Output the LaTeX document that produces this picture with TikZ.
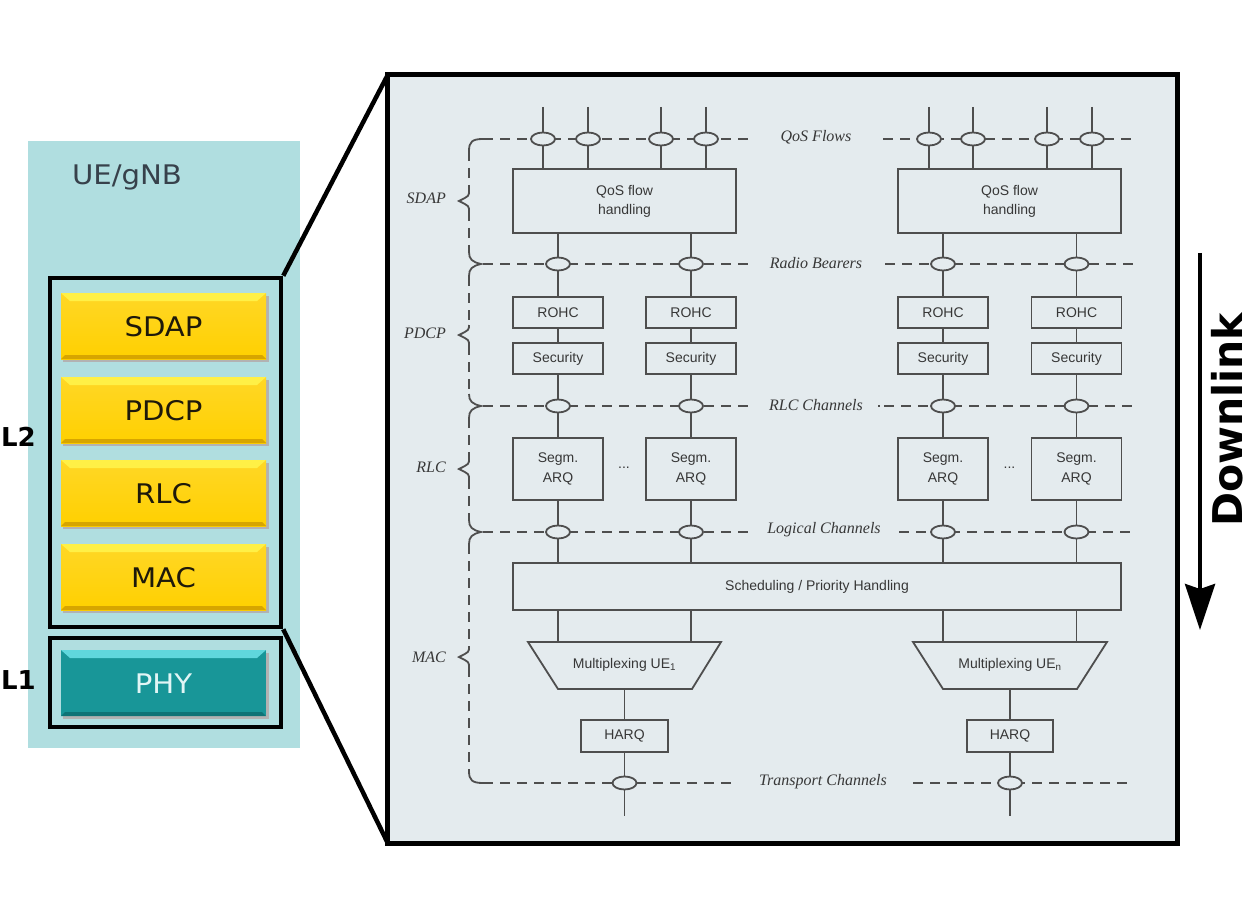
\documentclass[tikz,border=0pt]{standalone}
\usepackage{fontspec}
\usepackage{graphicx}
\usetikzlibrary{shapes.geometric,arrows.meta}
\setmainfont{Liberation Sans}
\newfontfamily\tnr{Liberation Serif}
\newfontfamily\dvs{DejaVu Sans}
\definecolor{bg}{RGB}{228,235,238}
\definecolor{lc}{RGB}{78,78,78}
\definecolor{tc}{RGB}{55,55,55}
\definecolor{panelc}{RGB}{176,222,224}
\definecolor{ybase}{RGB}{255,208,0}
\definecolor{ylight}{RGB}{255,240,70}
\definecolor{ydark}{RGB}{215,165,0}
\definecolor{tbase}{RGB}{24,150,152}
\definecolor{tlight}{RGB}{95,215,220}
\definecolor{tdark}{RGB}{15,115,118}
\newcommand\bxfont{\fontsize{14}{19}\selectfont}
\newcommand\lbfont{\tnr\itshape\fontsize{16}{18}\selectfont}
\newcommand\lpfont{\dvs\fontsize{27}{30}\selectfont}
\begin{document}
\begin{tikzpicture}[x=1pt,y=-1pt,
  ln/.style={draw=lc, line width=1.8pt},
  bx/.style={draw=lc, line width=1.8pt, rectangle, inner sep=0pt, align=center, font=\bxfont, text=tc},
  ov/.style={draw=lc, line width=1.8pt, ellipse, fill=bg, minimum width=24pt, minimum height=13pt, inner sep=0pt},
  dsh/.style={draw=lc, line width=1.8pt, dash pattern=on 10pt off 7pt},
  tip/.style={draw=lc, line width=1.8pt},
  lab/.style={font=\lbfont, text=tc, inner sep=0pt},
  ptxt/.style={font=\lpfont, inner sep=0pt},
  frame/.style={draw=black, line width=4.5pt, rectangle, inner sep=0pt}]
\useasboundingbox (0,0) rectangle (1255,917);
\fill[white] (0,0) rectangle (1255,917);

% ---------- left panel ----------
\fill[panelc] (28,141) rectangle (300,748);
\node[ptxt, text={rgb,255:red,55;green,65;blue,75}] (ue) at (127,177) {\scalebox{1.08}[1]{UE/gNB}};

\foreach \n/\t/\yy in {sdap/SDAP/293, pdcp/PDCP/377, rlc/RLC/460, mac/MAC/544} {
  \fill[black!30] (63,\yy+3) rectangle (269,\yy+69);
  \shade[top color=ybase!85!white, bottom color=ybase] (61,\yy) rectangle (266,\yy+66);
  \fill[ylight] (61,\yy) -- (266,\yy) -- (257,\yy+8) -- (70,\yy+8) -- cycle;
  \fill[ydark] (61,\yy+66) -- (266,\yy+66) -- (262,\yy+62) -- (65,\yy+62) -- cycle;
  \node[ptxt, text={rgb,255:red,30;green,25;blue,10}] (\n) at (163.5,\yy+34) {\scalebox{1.08}[1]{\t}};
}
\fill[black!30] (63,653) rectangle (269,719);
\fill[tbase] (61,650) rectangle (266,716);
\fill[tlight] (61,650) -- (266,650) -- (257,658) -- (70,658) -- cycle;
\fill[tdark] (61,716) -- (266,716) -- (262,712) -- (65,712) -- cycle;
\node[ptxt, text={rgb,255:red,225;green,245;blue,245}] (phy) at (163.5,684) {\scalebox{1.08}[1]{PHY}};

\node[frame, minimum width=231pt, minimum height=349pt] (l2box) at (165.5,452.5) {};
\node[frame, minimum width=231pt, minimum height=89pt] (l1box) at (165.5,682.5) {};
\node[anchor=east, inner sep=0pt, font=\dvs\bfseries\fontsize{26}{28}\selectfont] (l2) at (36,437) {L2};
\node[anchor=east, inner sep=0pt, font=\dvs\bfseries\fontsize{26}{28}\selectfont] (l1) at (36,680) {L1};

% ---------- right panel ----------
\node[rectangle, fill=bg, minimum width=789pt, minimum height=768pt, inner sep=0pt] (rp) at (782.5,459) {};
\draw[line width=4.5pt] (l2box.north east) -- (rp.north west);
\draw[line width=4.5pt] (l2box.south east) -- (rp.south west);

% boxes
\node[bx, minimum width=223pt, minimum height=64pt] (q1) at (624.5,201) {QoS flow\\handling};
\node[bx, minimum width=223pt, minimum height=64pt] (q2) at (1009.5,201) {QoS flow\\handling};
\foreach \n/\x in {1/558, 2/691, 3/943, 4/1076.5} {
  \node[bx, minimum width=90pt, minimum height=31pt] (r\n) at (\x,312.5) {ROHC};
  \node[bx, minimum width=90pt, minimum height=31pt] (s\n) at (\x,358.5) {Security};
  \node[bx, minimum width=90pt, minimum height=62pt] (g\n) at (\x,469) {Segm.\\[1pt]ARQ};
}
\node[font=\bxfont, text=tc, inner sep=0pt] (dots1) at (624,468) {...};
\node[font=\bxfont, text=tc, inner sep=0pt] (dots2) at (1009.5,468) {...};
\node[bx, minimum width=608pt, minimum height=47pt] (sch) at (817,586.5) {Scheduling / Priority Handling};

% multiplexers
\draw[ln] (528,642) -- (721,642) -- (692,689) -- (558,689) -- cycle;
\draw[ln] (913,642) -- (1107,642) -- (1077,689) -- (943,689) -- cycle;
\node[font=\bxfont, text=tc, inner sep=0pt] (mx1) at (624.5,665) {Multiplexing UE\textsubscript{1}};
\node[font=\bxfont, text=tc, inner sep=0pt] (mx2) at (1010,665) {Multiplexing UE\textsubscript{n}};
\coordinate (m1t1) at (558,642); \coordinate (m1t2) at (691,642);
\coordinate (m2t1) at (943,642); \coordinate (m2t2) at (1076.5,642);
\coordinate (m1b) at (624.5,689); \coordinate (m2b) at (1010,689);
\node[bx, minimum width=87pt, minimum height=32pt] (h1) at (624.5,736) {HARQ};
\node[bx, minimum width=86pt, minimum height=32pt] (h2) at (1010,736) {HARQ};
\coordinate (end1) at (624.5,816); \coordinate (end2) at (1010,816);

% dashed channel lines
\foreach \y/\xl/\xr/\xs in {139/751/883/1137, 264/751/885/1137, 406/751/884/1133, 532/751/899/1133, 783/735/913/1133} {
  \draw[dsh] (483,\y) -- (\xl,\y);
  \draw[dsh] (\xr,\y) -- (\xs,\y);
}
\draw[lc, line width=1.8pt, dash pattern=on 2pt off 4pt] (878,406) -- (884,406);
% braces: dashed verticals with rounded ends
\foreach \a/\m/\b in {139/201/264, 264/335/406, 406/469/532, 532/657/783} {
  \draw[dsh] (469,\a+12) -- (469,\m-10);
  \draw[dsh] (469,\m+10) -- (469,\b-12);
  \draw[tip] (469,\m-10) .. controls (469,\m-5) .. (459,\m) .. controls (469,\m+5) .. (469,\m+10);
}
% top and bottom corners
\draw[tip] (483,139) .. controls (472,139) and (469,142) .. (469,151);
\draw[tip] (469,771) .. controls (469,780) and (472,783) .. (483,783);
% boundary tips
\foreach \y in {264, 406, 532}
  \draw[tip] (469,\y-12) .. controls (469,\y-5) and (472,\y-2) .. (481,\y)
             .. controls (472,\y+2) and (469,\y+5) .. (469,\y+12);

% labels
\node[lab] (lqf) at (816,137) {QoS Flows};
\node[lab] (lrb) at (816,263) {Radio Bearers};
\node[lab] (lrc) at (816,405) {RLC Channels};
\node[lab] (llc) at (824,530) {Logical Channels};
\node[lab] (ltc) at (823,782) {Transport Channels};
\node[lab, anchor=east] (lsdap) at (446,198) {SDAP};
\node[lab, anchor=east] (lpdcp) at (446,333) {PDCP};
\node[lab, anchor=east] (lrlc) at (446,467) {RLC};
\node[lab, anchor=east] (lmac) at (446,657) {MAC};

% QoS flow connectors
\foreach \n/\x in {1/543, 2/588, 3/661, 4/706} {
  \coordinate (fa\n) at (\x,107);
  \draw[ln] (fa\n) -- (fa\n |- q1.north);
  \node[ov] (fe\n) at (\x,139) {};
}
\foreach \n/\x in {5/929, 6/973, 7/1047, 8/1092} {
  \coordinate (fa\n) at (\x,107);
  \draw[ln] (fa\n) -- (fa\n |- q2.north);
  \node[ov] (fe\n) at (\x,139) {};
}
% bearer columns
\foreach \n/\q in {1/q1, 2/q1, 3/q2, 4/q2} {
  \draw[ln] (\q.south -| r\n.north) -- (r\n.north);
  \draw[ln] (r\n.south) -- (s\n.north);
  \draw[ln] (s\n.south) -- (g\n.north);
  \draw[ln] (g\n.south) -- (sch.north -| g\n.south);
  \node[ov] (rbe\n) at (r\n.north |- 0,264) {};
  \node[ov] (rce\n) at (r\n.north |- 0,406) {};
  \node[ov] (lce\n) at (r\n.north |- 0,532) {};
}
\draw[ln] (sch.south -| m1t1) -- (m1t1);
\draw[ln] (sch.south -| m1t2) -- (m1t2);
\draw[ln] (sch.south -| m2t1) -- (m2t1);
\draw[ln] (sch.south -| m2t2) -- (m2t2);
\draw[ln] (m1b) -- (h1.north);
\draw[ln] (m2b) -- (h2.north);
\draw[ln] (h1.south) -- (end1);
\draw[ln] (h2.south) -- (end2);
\node[ov] (tce1) at (624.5,783) {};
\node[ov] (tce2) at (1010,783) {};

\draw[line width=5pt] (rp.north west) rectangle (rp.south east);

% downlink
\draw[line width=4pt, -{Stealth[length=46pt, width=30pt, inset=5pt]}] (1200,253) coordinate (dla) -- (1200,630) coordinate (dlb);
\node[rotate=90, inner sep=0pt, font=\dvs\bfseries\fontsize{41}{41}\selectfont] (dl) at (1227,420) {Downlink};
\end{tikzpicture}
\end{document}
